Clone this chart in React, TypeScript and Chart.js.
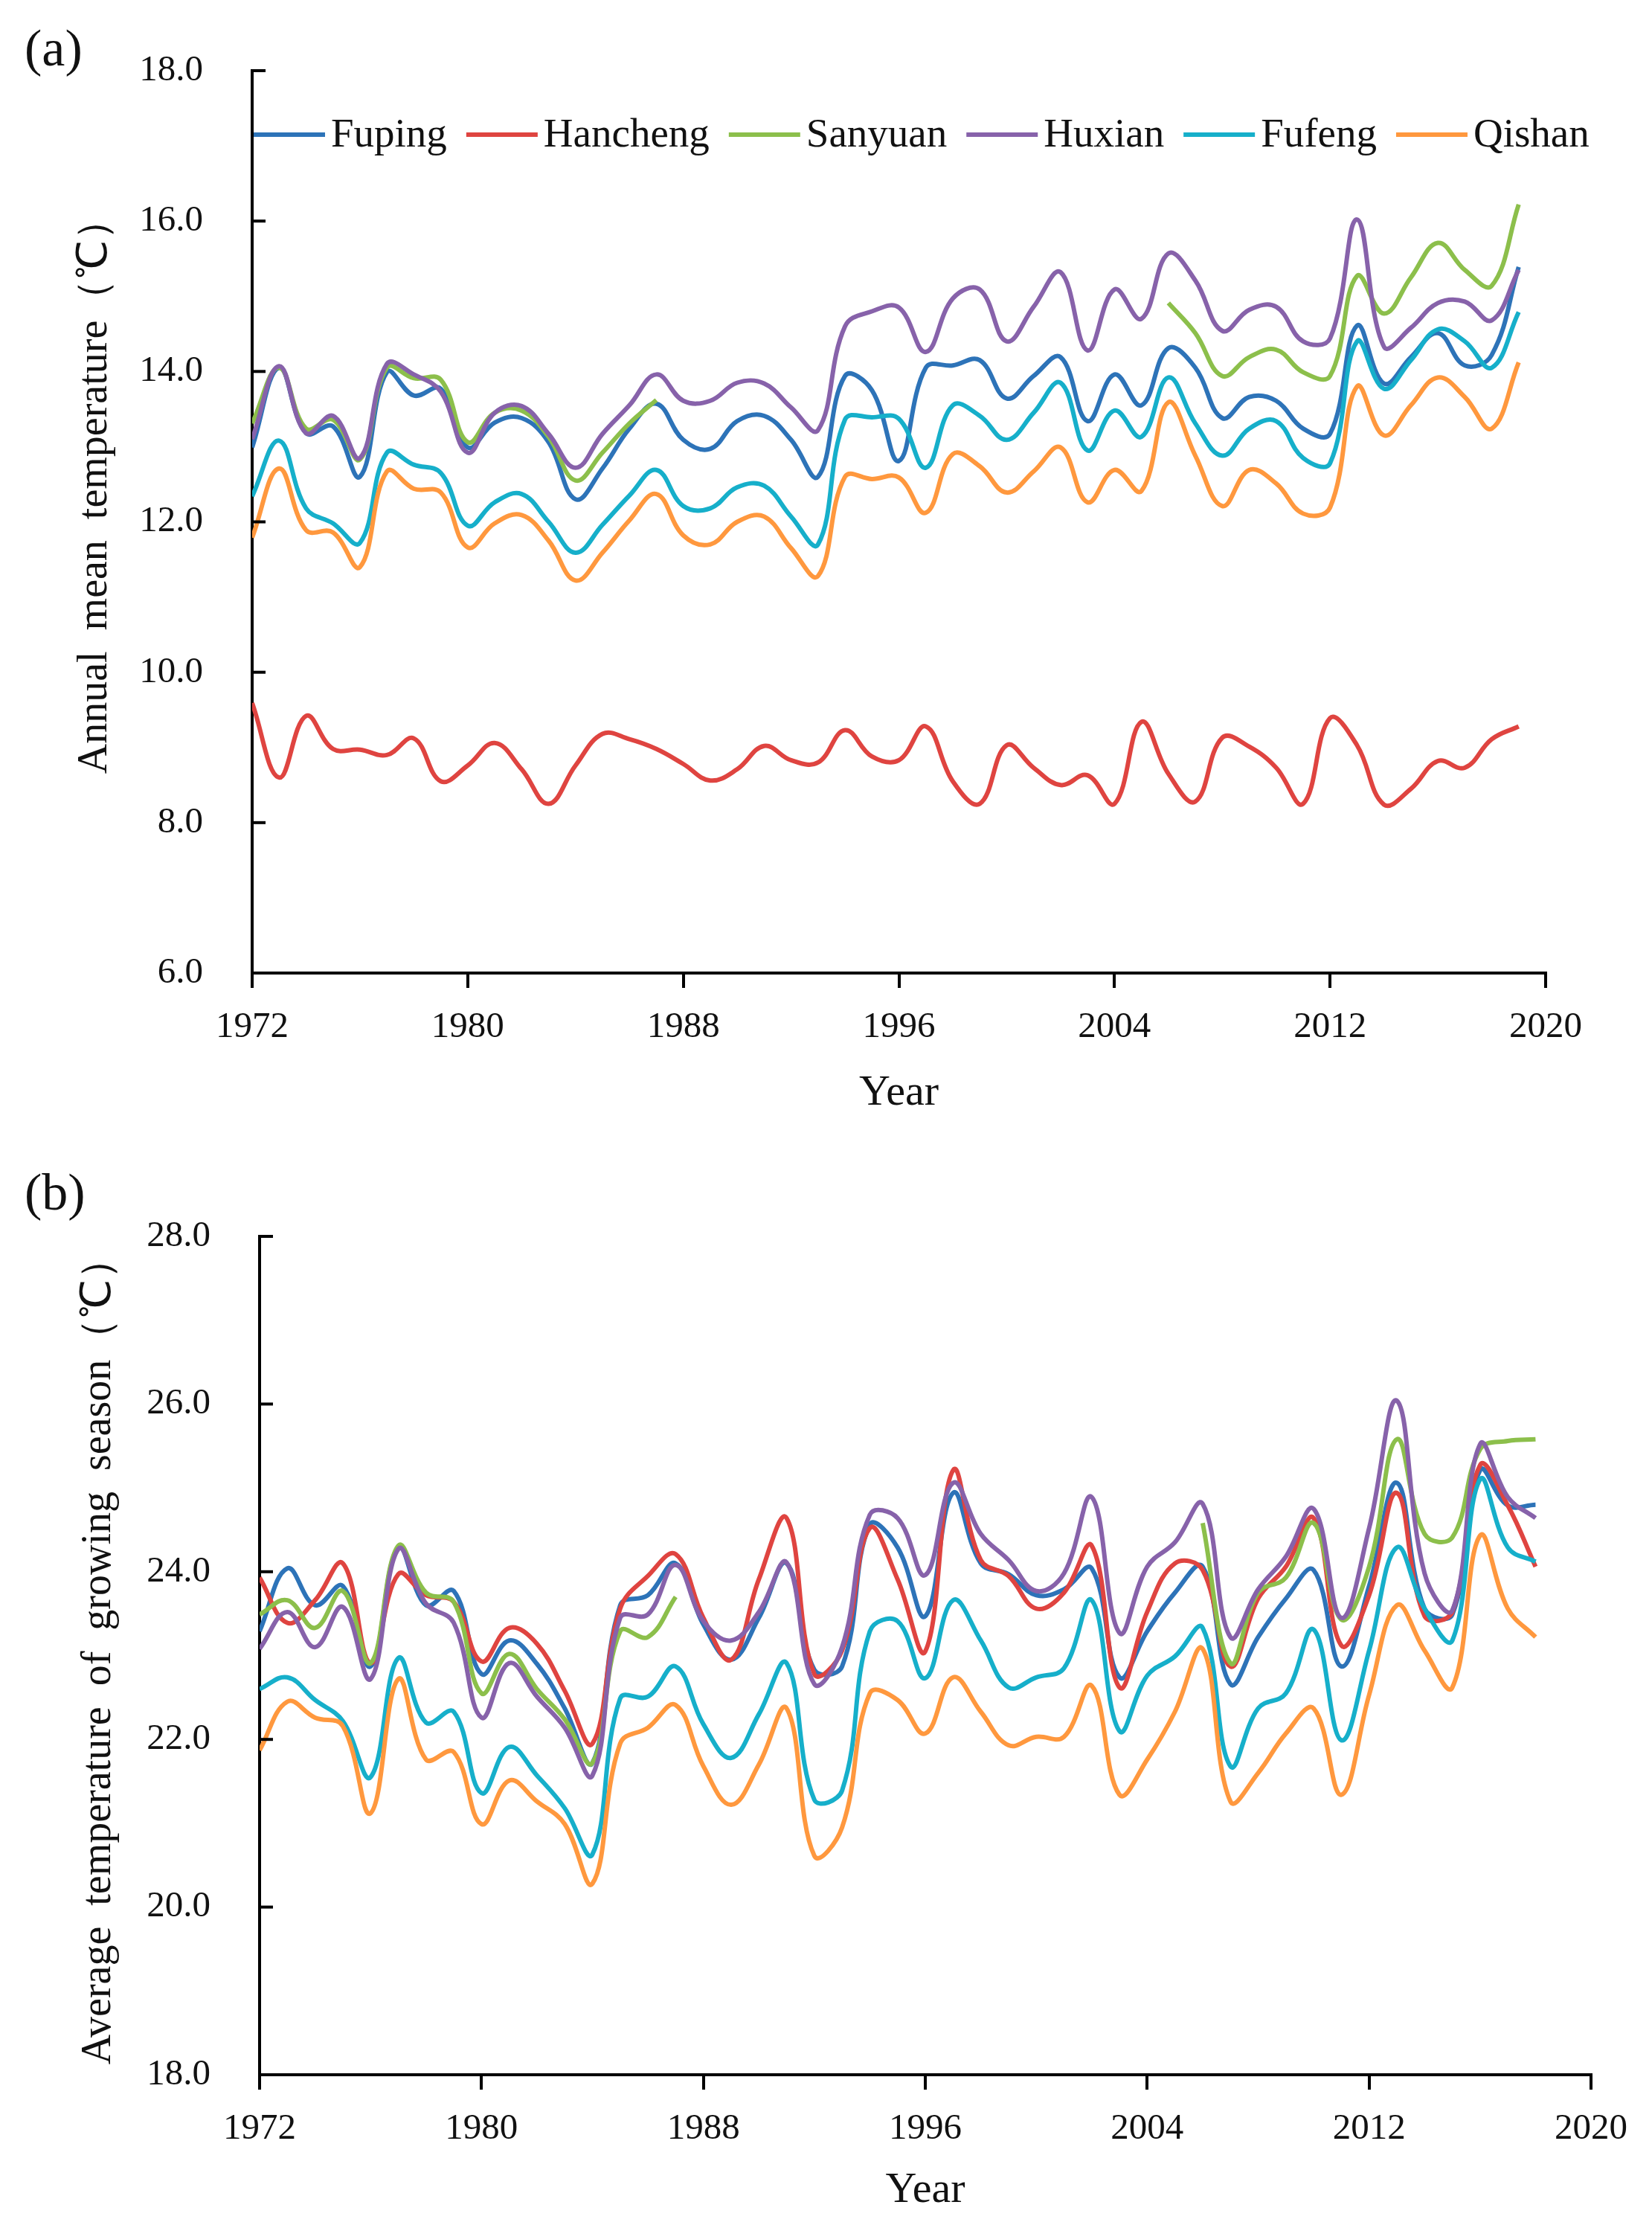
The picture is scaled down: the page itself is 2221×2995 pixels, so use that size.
import React, { useEffect, useRef } from "react";
import { Chart, registerables } from "chart.js";

Chart.register(...registerables);

const FONT = '"Liberation Serif", "Times New Roman", serif';

const seriesNames = ["Fuping", "Hancheng", "Sanyuan", "Huxian", "Fufeng", "Qishan"];
const seriesColors = ["#2D73B8", "#DF4440", "#8CBF4B", "#8762AA", "#16AFCA", "#FF983E"];

const xTickYears = [1972, 1980, 1988, 1996, 2004, 2012, 2020];
const yTicksA = [6, 8, 10, 12, 14, 16, 18];
const yTicksB = [18, 20, 22, 24, 26, 28];

const yearsA = [
  1972, 1973, 1974, 1975, 1976, 1977, 1978, 1979, 1980, 1981,
  1982, 1983, 1984, 1985, 1986, 1987, 1988, 1989, 1990, 1991,
  1992, 1993, 1994, 1995, 1996, 1997, 1998, 1999, 2000, 2001,
  2002, 2003, 2004, 2005, 2006, 2007, 2008, 2009, 2010, 2011,
  2012, 2013, 2014, 2015, 2016, 2017, 2018, 2019,
];
const yearsB = [
  1972, 1973, 1974, 1975, 1976, 1977, 1978, 1979, 1980, 1981,
  1982, 1983, 1984, 1985, 1986, 1987, 1988, 1989, 1990, 1991,
  1992, 1993, 1994, 1995, 1996, 1997, 1998, 1999, 2000, 2001,
  2002, 2003, 2004, 2005, 2006, 2007, 2008, 2009, 2010, 2011,
  2012, 2013, 2014, 2015, 2016, 2017, 2018,
];

// (a) Annual mean temperature
const fupingA = [
  12.99, 14.05, 13.18, 13.27, 12.60, 13.99, 13.68, 13.77, 12.99, 13.32,
  13.38, 13.06, 12.30, 12.71, 13.24, 13.57, 13.09, 12.97, 13.34, 13.41,
  13.09, 12.60, 13.94, 13.75, 12.81, 14.05, 14.08, 14.15, 13.64, 13.94,
  14.19, 13.34, 13.96, 13.55, 14.31, 14.05, 13.38, 13.66, 13.61, 13.24,
  13.17, 14.61, 13.84, 14.19, 14.51, 14.08, 14.22, 15.39,
];
const hanchengA = [
  9.59, 8.60, 9.42, 8.98, 8.97, 8.90, 9.12, 8.55, 8.76, 9.06,
  8.71, 8.25, 8.76, 9.18, 9.11, 8.98, 8.78, 8.56, 8.71, 9.02,
  8.83, 8.80, 9.23, 8.88, 8.83, 9.28, 8.55, 8.25, 9.03, 8.73,
  8.50, 8.63, 8.25, 9.34, 8.65, 8.28, 9.13, 9.01, 8.73, 8.25,
  9.39, 9.03, 8.24, 8.45, 8.82, 8.73, 9.11, 9.28,
];
const sanyuanA = [
  13.31, 14.05, 13.24, 13.36, 12.83, 14.05, 13.91, 13.89, 13.06, 13.45,
  13.48, 13.13, 12.55, 12.92, 13.31, 13.62, null, null, null, null,
  null, null, null, null, null, null, null, null, null, null,
  null, null, null, null, 14.91, 14.51, 13.94, 14.19, 14.29, 13.99,
  13.94, 15.27, 14.77, 15.25, 15.71, 15.35, 15.14, 16.22,
];
const huxianA = [
  13.10, 14.07, 13.18, 13.41, 12.85, 14.10, 13.96, 13.73, 12.92, 13.45,
  13.54, 13.17, 12.72, 13.17, 13.55, 13.96, 13.61, 13.61, 13.85, 13.84,
  13.52, 13.22, 14.60, 14.80, 14.85, 14.26, 14.97, 15.09, 14.40, 14.86,
  15.32, 14.28, 15.09, 14.70, 15.57, 15.21, 14.54, 14.82, 14.86, 14.40,
  14.44, 16.02, 14.33, 14.58, 14.91, 14.93, 14.68, 15.35,
];
const fufengA = [
  12.34, 13.08, 12.18, 11.98, 11.72, 12.92, 12.76, 12.65, 11.95, 12.26,
  12.37, 12.00, 11.59, 11.96, 12.35, 12.69, 12.21, 12.18, 12.46, 12.48,
  12.07, 11.70, 13.36, 13.39, 13.37, 12.72, 13.55, 13.41, 13.09, 13.45,
  13.85, 12.95, 13.48, 13.13, 13.92, 13.31, 12.88, 13.24, 13.34, 12.85,
  12.78, 14.40, 13.77, 14.15, 14.56, 14.40, 14.05, 14.79,
];
const qishanA = [
  11.79, 12.71, 11.89, 11.86, 11.40, 12.67, 12.44, 12.39, 11.66, 11.98,
  12.09, 11.75, 11.22, 11.59, 12.02, 12.37, 11.82, 11.70, 12.00, 12.07,
  11.65, 11.28, 12.60, 12.57, 12.59, 12.12, 12.90, 12.74, 12.39, 12.67,
  12.99, 12.26, 12.69, 12.41, 13.59, 12.88, 12.21, 12.69, 12.51, 12.11,
  12.19, 13.80, 13.15, 13.55, 13.92, 13.66, 13.24, 14.12,
];

// (b) Average temperature of growing season
const fupingB = [
  23.29, 24.04, 23.60, 23.83, 22.87, 24.29, 23.60, 23.77, 22.78, 23.18,
  22.90, 22.37, 21.72, 23.60, 23.72, 24.10, 23.37, 22.95, 23.45, 24.10,
  22.83, 22.87, 24.56, 24.29, 23.47, 24.94, 24.10, 23.97, 23.72, 23.79,
  24.04, 22.74, 23.29, 23.75, 24.06, 22.66, 23.22, 23.68, 24.02, 22.87,
  23.83, 25.06, 23.56, 23.49, 25.21, 24.79, 24.80,
];
const hanchengB = [
  23.93, 23.39, 23.66, 24.10, 22.91, 23.97, 23.72, 23.64, 22.93, 23.33,
  23.14, 22.58, 21.95, 23.56, 23.95, 24.21, 23.45, 22.95, 23.91, 24.64,
  22.78, 23.06, 24.52, 23.91, 23.05, 25.21, 24.14, 23.95, 23.56, 23.75,
  24.31, 22.62, 23.52, 24.10, 24.02, 22.87, 23.68, 24.06, 24.64, 23.12,
  23.72, 24.94, 23.47, 23.52, 25.27, 24.79, 24.06,
];
const sanyuanB = [
  23.49, 23.66, 23.33, 23.77, 22.91, 24.31, 23.75, 23.64, 22.55, 23.02,
  22.60, 22.24, 21.72, 23.29, 23.22, 23.70, null, null, null, null,
  null, null, null, null, null, null, null, null, null, null,
  null, null, null, null, 24.58, 22.91, 23.75, 23.93, 24.58, 23.43,
  24.06, 25.58, 24.45, 24.41, 25.46, 25.56, 25.58,
];
const huxianB = [
  23.08, 23.52, 23.10, 23.58, 22.72, 24.27, 23.62, 23.39, 22.26, 22.91,
  22.51, 22.14, 21.57, 23.45, 23.49, 24.08, 23.41, 23.18, 23.52, 24.11,
  22.66, 23.10, 24.68, 24.64, 23.96, 25.06, 24.45, 24.14, 23.77, 23.98,
  24.89, 23.27, 24.06, 24.35, 24.81, 23.22, 23.79, 24.18, 24.75, 23.45,
  24.52, 26.04, 23.98, 23.54, 25.52, 24.89, 24.64,
];
const fufengB = [
  22.60, 22.74, 22.47, 22.22, 21.55, 22.97, 22.20, 22.33, 21.36, 21.91,
  21.57, 21.18, 20.63, 22.49, 22.51, 22.87, 22.18, 21.78, 22.30, 22.91,
  21.28, 21.39, 23.29, 23.41, 22.73, 23.66, 23.18, 22.62, 22.74, 22.85,
  23.66, 22.10, 22.76, 22.99, 23.33, 21.68, 22.37, 22.55, 23.31, 21.99,
  23.06, 24.29, 23.56, 23.18, 25.10, 24.29, 24.12,
];
const qishanB = [
  21.87, 22.45, 22.26, 22.16, 21.12, 22.72, 21.76, 21.85, 20.99, 21.51,
  21.26, 20.99, 20.28, 21.95, 22.14, 22.41, 21.68, 21.22, 21.70, 22.37,
  20.61, 20.95, 22.55, 22.47, 22.07, 22.74, 22.33, 21.93, 22.03, 22.03,
  22.64, 21.34, 21.76, 22.33, 23.08, 21.26, 21.60, 22.07, 22.37, 21.34,
  22.53, 23.60, 23.06, 22.62, 24.43, 23.56, 23.22,
];

const PAGE_W = 2221;

type PanelSpec = {
  years: number[];
  series: (number | null)[][];
  yMin: number;
  yMax: number;
  yTicks: number[];
  yTitle: string;
  panel: string;
  legend: boolean;
  canvasH: number;
  top: number;
  area: { left: number; top: number; right: number; bottom: number };
  yTitleX: number;
  yTitleShift: number;
  xTitleY: number;
  panelY: number;
};

function decorPlugin(p: PanelSpec) {
  return {
    id: "decor" + p.panel,
    afterDraw(chart: any) {
      const ctx = chart.ctx as CanvasRenderingContext2D;
      const ca = chart.chartArea;
      const ys = chart.scales.y;
      ctx.save();
      // inward y tick marks
      ctx.strokeStyle = "#000";
      ctx.lineWidth = 4;
      p.yTicks.forEach((v) => {
        const py = ys.getPixelForValue(v);
        ctx.beginPath();
        ctx.moveTo(ca.left, py);
        ctx.lineTo(ca.left + 18, py);
        ctx.stroke();
      });
      ctx.fillStyle = "#111";
      // panel label
      ctx.font = `70px ${FONT}`;
      ctx.textAlign = "left";
      ctx.textBaseline = "middle";
      ctx.fillText(p.panel, 33, p.panelY);
      // y title
      ctx.save();
      ctx.translate(p.yTitleX, (ca.top + ca.bottom) / 2 + p.yTitleShift);
      ctx.rotate(-Math.PI / 2);
      ctx.font = `56px ${FONT}`;
      ctx.textAlign = "center";
      ctx.textBaseline = "middle";
      ctx.fillText(p.yTitle, 0, 0);
      ctx.restore();
      // x title
      ctx.font = `58px ${FONT}`;
      ctx.textAlign = "center";
      ctx.textBaseline = "middle";
      ctx.fillText("Year", (ca.left + ca.right) / 2, p.xTitleY);
      // legend inside plot
      if (p.legend) {
        const ly = 181;
        let lx = ca.left + 2;
        ctx.font = `55px ${FONT}`;
        ctx.textAlign = "left";
        ctx.textBaseline = "middle";
        seriesNames.forEach((name, i) => {
          ctx.strokeStyle = seriesColors[i];
          ctx.lineWidth = 6;
          ctx.beginPath();
          ctx.moveTo(lx, ly);
          ctx.lineTo(lx + 96, ly);
          ctx.stroke();
          ctx.fillStyle = "#111";
          ctx.fillText(name, lx + 104, ly + 2);
          lx += 104 + ctx.measureText(name).width + 26;
        });
      }
      ctx.restore();
    },
  };
}

function buildConfig(p: PanelSpec): any {
  const datasets = seriesNames.map((name, i) => ({
    label: name,
    data: p.years.map((yr, k) => ({ x: yr, y: p.series[i][k] })),
    borderColor: seriesColors[i],
    backgroundColor: seriesColors[i],
    borderWidth: 6,
    pointRadius: 0,
    pointHoverRadius: 0,
    tension: 0.4,
    spanGaps: false,
    fill: false,
    order: seriesNames.length - 1 - i,
  }));
  return {
    type: "line",
    data: { datasets },
    options: {
      animation: false,
      responsive: false,
      maintainAspectRatio: false,
      events: [],
      layout: {
        padding: { left: 0, top: p.area.top, right: PAGE_W - p.area.right, bottom: 0 },
      },
      plugins: {
        legend: { display: false },
        tooltip: { enabled: false },
        title: { display: false },
      },
      scales: {
        x: {
          type: "linear",
          min: 1972,
          max: 2020,
          afterBuildTicks: (s: any) => {
            s.ticks = xTickYears.map((v) => ({ value: v }));
          },
          afterFit: (s: any) => {
            s.height = p.canvasH - p.area.bottom;
          },
          ticks: {
            callback: (v: any) => String(v),
            font: { family: FONT, size: 49 },
            color: "#111",
            padding: 24,
            maxRotation: 0,
            autoSkip: false,
          },
          grid: {
            display: true,
            drawOnChartArea: false,
            drawTicks: true,
            tickLength: 20,
            tickWidth: 4,
            lineWidth: 4,
            color: "#000",
          },
          border: { display: true, color: "#000", width: 4 },
        },
        y: {
          type: "linear",
          min: p.yMin,
          max: p.yMax,
          afterBuildTicks: (s: any) => {
            s.ticks = p.yTicks.map((v) => ({ value: v }));
          },
          afterFit: (s: any) => {
            s.width = p.area.left;
          },
          ticks: {
            callback: (v: any) => Number(v).toFixed(1),
            font: { family: FONT, size: 49 },
            color: "#111",
            padding: 58,
          },
          grid: { display: false },
          border: { display: true, color: "#000", width: 4 },
        },
      },
    },
    plugins: [decorPlugin(p)],
  };
}

const panelA: PanelSpec = {
  years: yearsA,
  series: [fupingA, hanchengA, sanyuanA, huxianA, fufengA, qishanA],
  yMin: 6,
  yMax: 18,
  yTicks: yTicksA,
  yTitle: "Annual  mean  temperature（℃）",
  panel: "(a)",
  legend: true,
  canvasH: 1540,
  top: 0,
  area: { left: 339, top: 95, right: 2078, bottom: 1308 },
  yTitleX: 128,
  yTitleShift: -48,
  xTitleY: 1470,
  panelY: 70,
};

const panelB: PanelSpec = {
  years: yearsB,
  series: [fupingB, hanchengB, sanyuanB, huxianB, fufengB, qishanB],
  yMin: 18,
  yMax: 28,
  yTicks: yTicksB,
  yTitle: "Average  temperature  of  growing  season（℃）",
  panel: "(b)",
  legend: false,
  canvasH: 1455,
  top: 1540,
  area: { left: 349, top: 122, right: 2139, bottom: 1249 },
  yTitleX: 133,
  yTitleShift: -6,
  xTitleY: 1405,
  panelY: 68,
};

function Panel({ spec }: { spec: PanelSpec }) {
  const ref = useRef<HTMLCanvasElement>(null);
  useEffect(() => {
    if (!ref.current) return;
    const chart = new Chart(ref.current, buildConfig(spec));
    return () => chart.destroy();
  }, [spec]);
  return (
    <canvas
      ref={ref}
      width={PAGE_W}
      height={spec.canvasH}
      style={{
        position: "absolute",
        left: 0,
        top: spec.top,
        width: PAGE_W,
        height: spec.canvasH,
        display: "block",
      }}
    />
  );
}

export default function App() {
  return (
    <div
      style={{
        position: "absolute",
        left: 0,
        top: 0,
        width: PAGE_W,
        height: 2995,
        background: "#ffffff",
        overflow: "hidden",
      }}
    >
      <Panel spec={panelA} />
      <Panel spec={panelB} />
    </div>
  );
}
